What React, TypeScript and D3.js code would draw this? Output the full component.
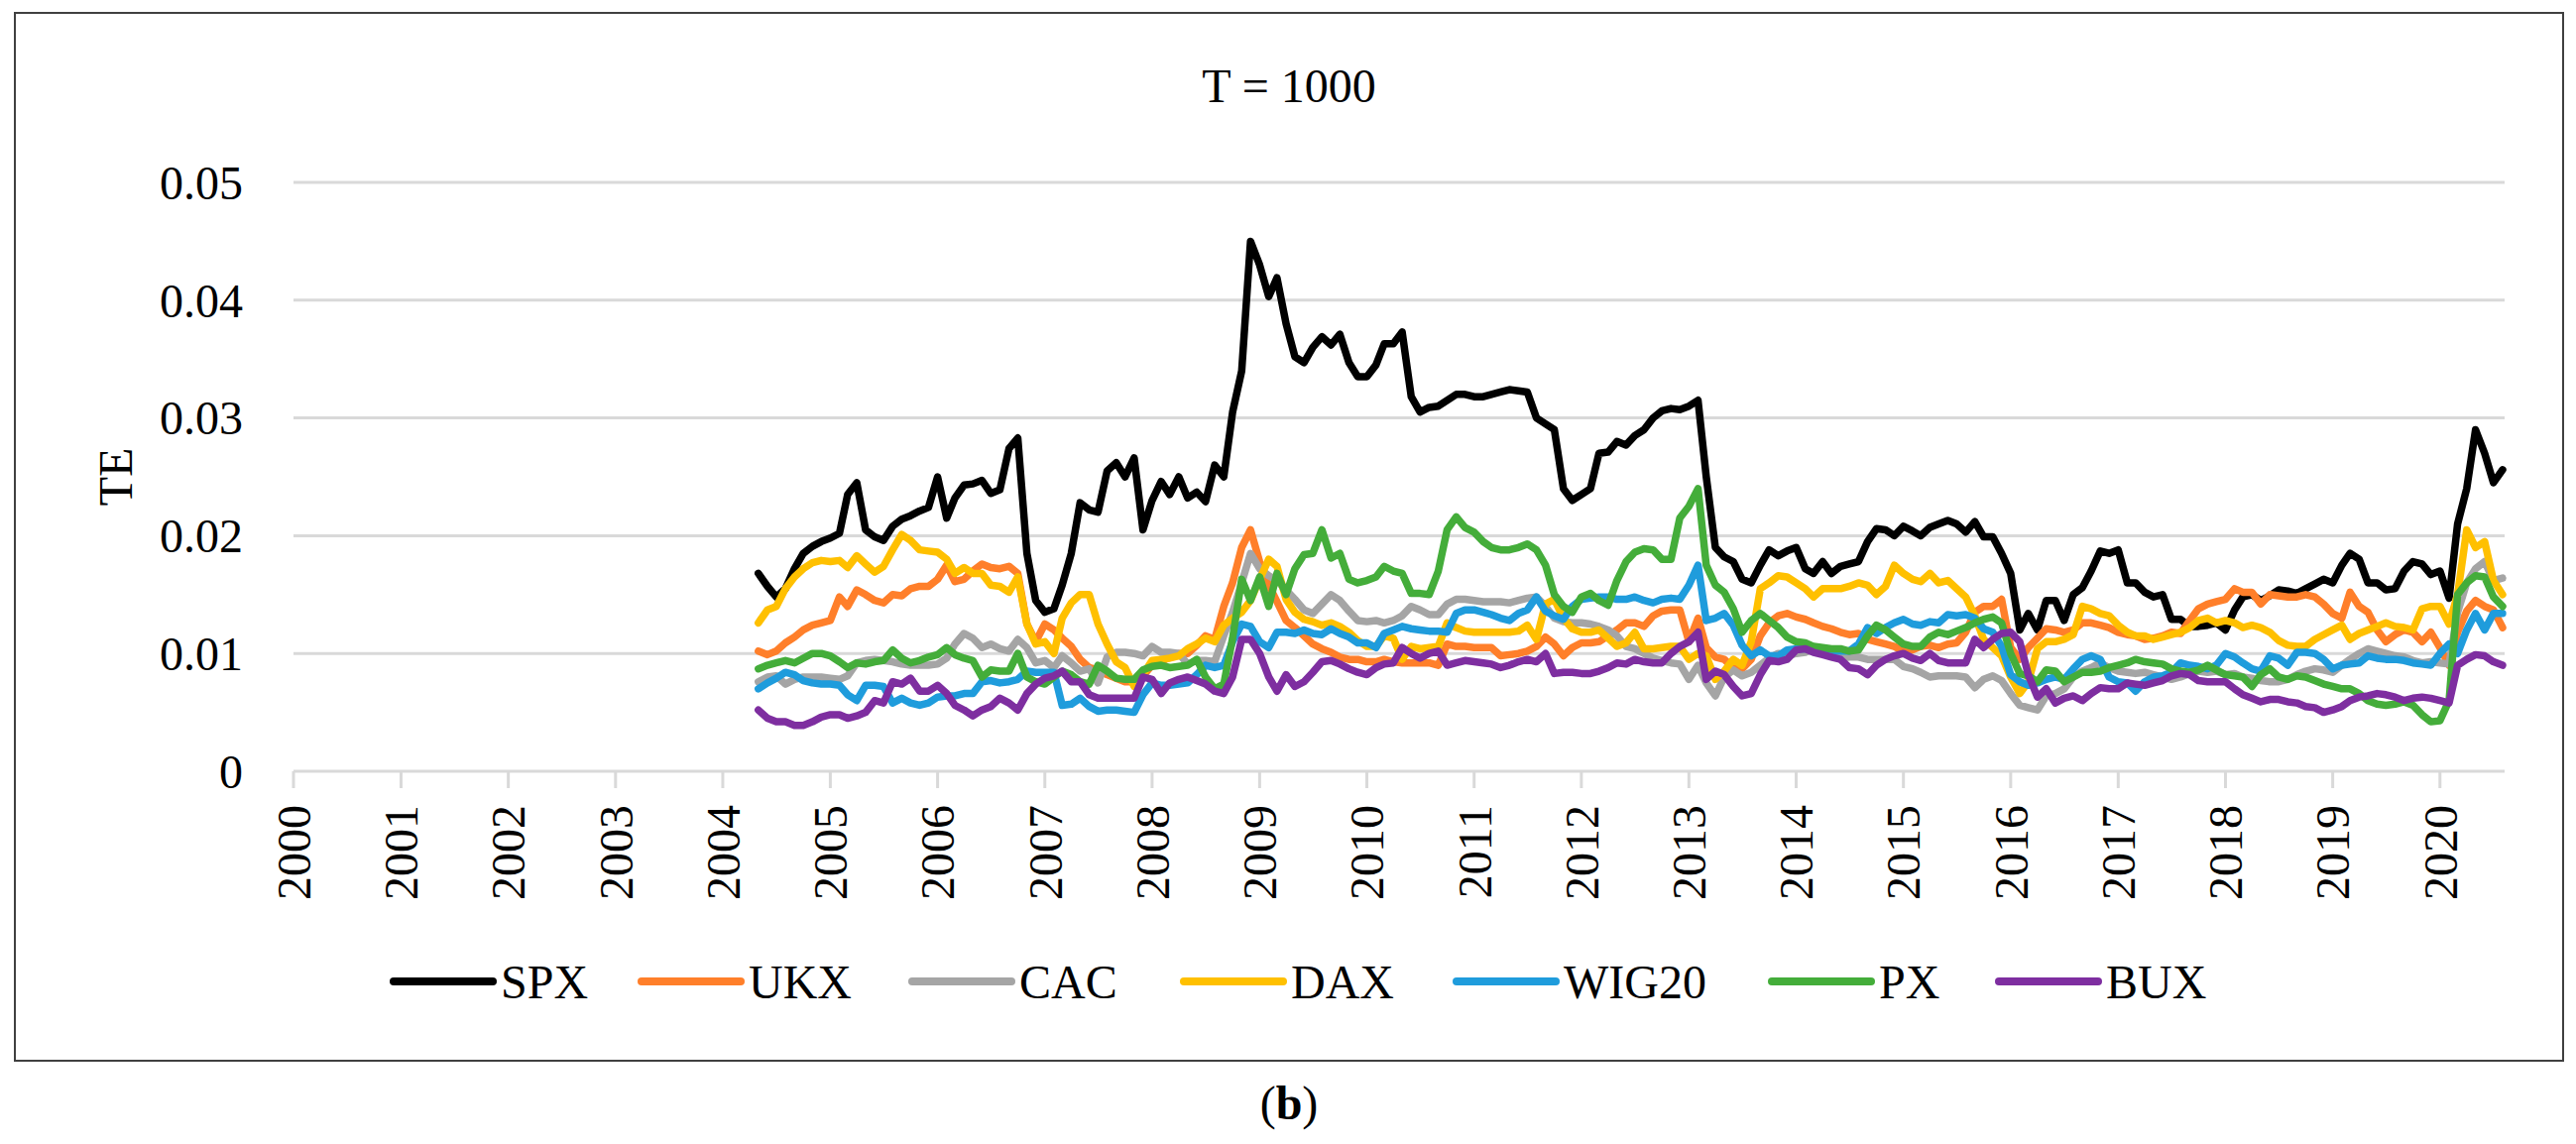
import React from 'react';
import * as d3 from 'd3';

const W = 2598;
const H = 1154;
const FONT = "'Liberation Serif', 'Times New Roman', serif";

// monthly observations, May 2004 .. Aug 2020
const firstMonth = new Date(2004, 4, 1);
const afterLastMonth = new Date(2020, 8, 1);

const yearLabels = [
  '2000', '2001', '2002', '2003', '2004', '2005', '2006', '2007', '2008', '2009', '2010',
  '2011', '2012', '2013', '2014', '2015', '2016', '2017', '2018', '2019', '2020',
];
const yTicks = [0, 0.01, 0.02, 0.03, 0.04, 0.05];
const yTickLabels = ['0', '0.01', '0.02', '0.03', '0.04', '0.05'];

const seriesNames = ['SPX', 'UKX', 'CAC', 'DAX', 'WIG20', 'PX', 'BUX'];
const seriesColors = ['#000000', '#ff7f2a', '#a5a5a5', '#ffc000', '#1f9cdc', '#44ad3a', '#7e2ea0'];

const spx = [
  0.0168, 0.0157, 0.0148, 0.0155, 0.0172, 0.0185, 0.0191, 0.0195, 0.0198, 0.0202, 0.0235, 0.0245,
  0.0205, 0.0199, 0.0196, 0.0208, 0.0214, 0.0217, 0.0221, 0.0224, 0.0250, 0.0215, 0.0232, 0.0243,
  0.0244, 0.0247, 0.0236, 0.0239, 0.0274, 0.0283, 0.0185, 0.0145, 0.0135, 0.0138, 0.0158, 0.0185,
  0.0228, 0.0222, 0.0220, 0.0255, 0.0262, 0.0250, 0.0266, 0.0205, 0.0230, 0.0246, 0.0235, 0.0250,
  0.0232, 0.0237, 0.0229, 0.0260, 0.0250, 0.0305, 0.0340, 0.0450, 0.0430, 0.0403, 0.0419, 0.0380,
  0.0352, 0.0347, 0.0360, 0.0369, 0.0362, 0.0371, 0.0347, 0.0335, 0.0335, 0.0345, 0.0363, 0.0363,
  0.0373, 0.0318, 0.0305, 0.0309, 0.0310, 0.0315, 0.0320, 0.0320, 0.0318, 0.0318, 0.0320, 0.0322,
  0.0324, 0.0323, 0.0322, 0.0300, 0.0295, 0.0290, 0.0240, 0.0230, 0.0235, 0.0240, 0.0270, 0.0271,
  0.0280, 0.0277, 0.0285, 0.0290, 0.0300, 0.0306, 0.0308, 0.0307, 0.0310, 0.0315, 0.0250, 0.0190,
  0.0182, 0.0178, 0.0163, 0.0160, 0.0175, 0.0188, 0.0183, 0.0187, 0.0190, 0.0172, 0.0168, 0.0178,
  0.0168, 0.0174, 0.0176, 0.0178, 0.0195, 0.0206, 0.0205, 0.0200, 0.0208, 0.0204, 0.0200, 0.0207,
  0.0210, 0.0213, 0.0210, 0.0203, 0.0212, 0.0199, 0.0199, 0.0185, 0.0168, 0.0120, 0.0134, 0.0120,
  0.0145, 0.0145, 0.0128, 0.0150, 0.0156, 0.0170, 0.0187, 0.0185, 0.0188, 0.0160, 0.0160, 0.0152,
  0.0148, 0.0150, 0.0129, 0.0129, 0.0123, 0.0123, 0.0124, 0.0126, 0.0120, 0.0137, 0.0148, 0.0150,
  0.0145, 0.0149, 0.0154, 0.0153, 0.0151, 0.0155, 0.0159, 0.0163, 0.0160, 0.0175, 0.0185, 0.0180,
  0.0160, 0.0160, 0.0154, 0.0155, 0.0170, 0.0178, 0.0176, 0.0167, 0.0170, 0.0147, 0.0210, 0.0240,
  0.0290, 0.0270, 0.0245, 0.0256,
];

const ukx = [
  0.0102, 0.0099, 0.0102, 0.0109, 0.0114, 0.0120, 0.0124, 0.0126, 0.0128, 0.0148, 0.0140, 0.0154,
  0.0150, 0.0145, 0.0143, 0.0150, 0.0149, 0.0155, 0.0157, 0.0157, 0.0163, 0.0175, 0.0161, 0.0163,
  0.0170, 0.0176, 0.0173, 0.0172, 0.0174, 0.0168, 0.0125, 0.0110, 0.0125, 0.0120, 0.0113, 0.0106,
  0.0095, 0.0088, 0.0086, 0.0082, 0.0079, 0.0076, 0.0076, 0.0081, 0.0090, 0.0093, 0.0097, 0.0100,
  0.0100, 0.0107, 0.0115, 0.0112, 0.0140, 0.0160, 0.0190, 0.0205, 0.0178, 0.0158, 0.0144, 0.0128,
  0.0122, 0.0115, 0.0108, 0.0104, 0.0101, 0.0097, 0.0095, 0.0095, 0.0093, 0.0093, 0.0095, 0.0093,
  0.0092, 0.0092, 0.0092, 0.0092, 0.0090, 0.0108, 0.0106, 0.0106, 0.0105, 0.0105, 0.0105, 0.0098,
  0.0099, 0.0100, 0.0102, 0.0106, 0.0114, 0.0108, 0.0098, 0.0105, 0.0109, 0.0109, 0.0110, 0.0115,
  0.0120, 0.0126, 0.0126, 0.0123, 0.0132, 0.0136, 0.0137, 0.0137, 0.0110, 0.0130, 0.0105, 0.0097,
  0.0095, 0.0088, 0.0087, 0.0095, 0.0115, 0.0126, 0.0132, 0.0134, 0.0131, 0.0129, 0.0126, 0.0123,
  0.0121, 0.0118, 0.0116, 0.0117, 0.0112, 0.0110, 0.0108, 0.0106, 0.0102, 0.0103, 0.0106, 0.0107,
  0.0105, 0.0108, 0.0109, 0.0118, 0.0135, 0.0140, 0.0140, 0.0146, 0.0105, 0.0095, 0.0105, 0.0113,
  0.0121, 0.0120, 0.0118, 0.0120, 0.0126, 0.0126, 0.0124, 0.0122, 0.0118, 0.0116, 0.0115, 0.0112,
  0.0113, 0.0115, 0.0118, 0.0117, 0.0128, 0.0138, 0.0142, 0.0144, 0.0146, 0.0155, 0.0152, 0.0152,
  0.0142, 0.0150, 0.0149, 0.0148, 0.0148, 0.0150, 0.0148, 0.0142, 0.0134, 0.0130, 0.0152, 0.0140,
  0.0135, 0.0120, 0.0110, 0.0116, 0.0120, 0.0118, 0.0110, 0.0118, 0.0105, 0.0090, 0.0118, 0.0136,
  0.0145, 0.0140, 0.0137, 0.0122,
];

const cac = [
  0.0076, 0.0080, 0.0081, 0.0074, 0.0078, 0.0080, 0.0080, 0.0080, 0.0079, 0.0078, 0.0081, 0.0092,
  0.0094, 0.0095, 0.0094, 0.0093, 0.0091, 0.0090, 0.0090, 0.0090, 0.0091, 0.0096, 0.0108, 0.0117,
  0.0113, 0.0105, 0.0108, 0.0104, 0.0102, 0.0112, 0.0105, 0.0092, 0.0094, 0.0088, 0.0098, 0.0092,
  0.0085, 0.0087, 0.0075, 0.0097, 0.0101, 0.0101, 0.0100, 0.0098, 0.0106, 0.0101, 0.0101, 0.0100,
  0.0091, 0.0094, 0.0094, 0.0093, 0.0115, 0.0135, 0.0160, 0.0185, 0.0172, 0.0166, 0.0162, 0.0154,
  0.0146, 0.0137, 0.0134, 0.0142, 0.0150, 0.0145, 0.0136, 0.0128, 0.0127, 0.0128, 0.0126, 0.0128,
  0.0132, 0.0140, 0.0137, 0.0133, 0.0133, 0.0142, 0.0146, 0.0146, 0.0145, 0.0144, 0.0144, 0.0144,
  0.0143, 0.0145, 0.0147, 0.0148, 0.0140, 0.0130, 0.0127, 0.0126, 0.0126, 0.0125, 0.0123, 0.0120,
  0.0115, 0.0106, 0.0104, 0.0100, 0.0096, 0.0094, 0.0092, 0.0091, 0.0078, 0.0090, 0.0075, 0.0064,
  0.0080, 0.0086, 0.0081, 0.0084, 0.0090, 0.0096, 0.0100, 0.0098, 0.0100, 0.0101, 0.0104, 0.0103,
  0.0100, 0.0096, 0.0097, 0.0097, 0.0095, 0.0095, 0.0095, 0.0095, 0.0089, 0.0087, 0.0084, 0.0080,
  0.0081, 0.0081, 0.0081, 0.0080, 0.0071, 0.0078, 0.0081, 0.0077, 0.0066, 0.0056, 0.0054, 0.0052,
  0.0064, 0.0066, 0.0070, 0.0080, 0.0085, 0.0088, 0.0092, 0.0088, 0.0085, 0.0084, 0.0083, 0.0084,
  0.0082, 0.0080, 0.0078, 0.0080, 0.0083, 0.0085, 0.0084, 0.0085, 0.0082, 0.0083, 0.0080, 0.0079,
  0.0077, 0.0076, 0.0076, 0.0078, 0.0082, 0.0085, 0.0087, 0.0086, 0.0084, 0.0090, 0.0095, 0.0100,
  0.0104, 0.0102, 0.0100, 0.0098, 0.0097, 0.0094, 0.0092, 0.0093, 0.0092, 0.0091, 0.0135, 0.0160,
  0.0172, 0.0178, 0.0162, 0.0164,
];

const dax = [
  0.0126, 0.0137, 0.0140, 0.0155, 0.0165, 0.0172, 0.0177, 0.0179, 0.0178, 0.0179, 0.0173, 0.0183,
  0.0176, 0.0169, 0.0174, 0.0188, 0.0201, 0.0196, 0.0188, 0.0187, 0.0186, 0.0180, 0.0168, 0.0173,
  0.0168, 0.0168, 0.0158, 0.0157, 0.0152, 0.0165, 0.0125, 0.0108, 0.0110, 0.0100, 0.0130, 0.0143,
  0.0150, 0.0150, 0.0125, 0.0108, 0.0093, 0.0088, 0.0072, 0.0082, 0.0094, 0.0095, 0.0096, 0.0098,
  0.0104, 0.0108, 0.0113, 0.0110, 0.0124, 0.0130, 0.0135, 0.0145, 0.0163, 0.0180, 0.0174, 0.0146,
  0.0135, 0.0129, 0.0127, 0.0124, 0.0126, 0.0123, 0.0118, 0.0111, 0.0106, 0.0106, 0.0115, 0.0113,
  0.0095, 0.0106, 0.0104, 0.0105, 0.0106, 0.0126, 0.0122, 0.0119, 0.0118, 0.0118, 0.0118, 0.0118,
  0.0118, 0.0119, 0.0124, 0.0112, 0.0142, 0.0146, 0.0130, 0.0121, 0.0118, 0.0118, 0.0120, 0.0113,
  0.0106, 0.0109, 0.0118, 0.0104, 0.0104, 0.0105, 0.0106, 0.0106, 0.0095, 0.0100, 0.0098, 0.0078,
  0.0085, 0.0095, 0.0090, 0.0110, 0.0155, 0.0160, 0.0166, 0.0165, 0.0160, 0.0155, 0.0148, 0.0155,
  0.0155, 0.0155, 0.0157, 0.0160, 0.0158, 0.0150, 0.0157, 0.0175, 0.0168, 0.0163, 0.0161, 0.0168,
  0.0160, 0.0162, 0.0155, 0.0148, 0.0132, 0.0112, 0.0105, 0.0098, 0.0080, 0.0066, 0.0076, 0.0104,
  0.0110, 0.0110, 0.0112, 0.0116, 0.0140, 0.0138, 0.0134, 0.0132, 0.0124, 0.0118, 0.0115, 0.0115,
  0.0112, 0.0114, 0.0116, 0.0118, 0.0122, 0.0128, 0.0130, 0.0126, 0.0128, 0.0126, 0.0122, 0.0124,
  0.0122, 0.0118, 0.0111, 0.0107, 0.0106, 0.0106, 0.0112, 0.0116, 0.0120, 0.0124, 0.0112, 0.0117,
  0.0120, 0.0123, 0.0126, 0.0123, 0.0122, 0.0120, 0.0138, 0.0140, 0.0140, 0.0125, 0.0150, 0.0205,
  0.0190, 0.0195, 0.0162, 0.0150,
];

const wig20 = [
  0.0070, 0.0075, 0.0079, 0.0084, 0.0082, 0.0077, 0.0075, 0.0074, 0.0074, 0.0073, 0.0065, 0.0060,
  0.0073, 0.0073, 0.0072, 0.0058, 0.0062, 0.0058, 0.0056, 0.0058, 0.0063, 0.0064, 0.0064, 0.0066,
  0.0066, 0.0076, 0.0077, 0.0075, 0.0076, 0.0078, 0.0085, 0.0084, 0.0084, 0.0084, 0.0056, 0.0057,
  0.0062, 0.0055, 0.0051, 0.0052, 0.0052, 0.0051, 0.0050, 0.0065, 0.0075, 0.0073, 0.0073, 0.0074,
  0.0075, 0.0082, 0.0090, 0.0088, 0.0090, 0.0110, 0.0125, 0.0123, 0.0110, 0.0105, 0.0118, 0.0118,
  0.0117, 0.0120, 0.0117, 0.0116, 0.0121, 0.0117, 0.0114, 0.0109, 0.0109, 0.0105, 0.0117, 0.0120,
  0.0123, 0.0121, 0.0120, 0.0119, 0.0119, 0.0118, 0.0134, 0.0137, 0.0137, 0.0135, 0.0133, 0.0130,
  0.0128, 0.0134, 0.0137, 0.0148, 0.0136, 0.0132, 0.0129, 0.0140, 0.0146, 0.0147, 0.0148, 0.0148,
  0.0146, 0.0146, 0.0148, 0.0145, 0.0143, 0.0146, 0.0147, 0.0146, 0.0158, 0.0175, 0.0128, 0.0130,
  0.0134, 0.0124, 0.0107, 0.0098, 0.0103, 0.0098, 0.0098, 0.0103, 0.0104, 0.0104, 0.0104, 0.0101,
  0.0102, 0.0102, 0.0102, 0.0108, 0.0122, 0.0117, 0.0122, 0.0126, 0.0129, 0.0125, 0.0124, 0.0127,
  0.0126, 0.0133, 0.0132, 0.0133, 0.0130, 0.0121, 0.0118, 0.0106, 0.0082, 0.0076, 0.0073, 0.0075,
  0.0078, 0.0080, 0.0078, 0.0087, 0.0095, 0.0098, 0.0095, 0.0080, 0.0076, 0.0075, 0.0068, 0.0076,
  0.0080, 0.0081, 0.0084, 0.0092, 0.0090, 0.0089, 0.0087, 0.0090, 0.0100, 0.0097, 0.0092, 0.0087,
  0.0085, 0.0098, 0.0096, 0.0090, 0.0101, 0.0101, 0.0100, 0.0095, 0.0087, 0.0090, 0.0091, 0.0092,
  0.0098, 0.0096, 0.0095, 0.0095, 0.0094, 0.0092, 0.0091, 0.0090, 0.0100, 0.0108, 0.0100, 0.0120,
  0.0134, 0.0120, 0.0134, 0.0134,
];

const px = [
  0.0087, 0.0090, 0.0092, 0.0094, 0.0092, 0.0096, 0.0100, 0.0100, 0.0098, 0.0093, 0.0088, 0.0092,
  0.0091, 0.0093, 0.0094, 0.0103, 0.0096, 0.0092, 0.0094, 0.0097, 0.0099, 0.0105, 0.0099, 0.0096,
  0.0094, 0.0080, 0.0086, 0.0085, 0.0085, 0.0100, 0.0080, 0.0076, 0.0074, 0.0080, 0.0085, 0.0082,
  0.0076, 0.0074, 0.0090, 0.0085, 0.0079, 0.0078, 0.0078, 0.0086, 0.0089, 0.0090, 0.0088, 0.0089,
  0.0090, 0.0095, 0.0080, 0.0070, 0.0074, 0.0113, 0.0163, 0.0145, 0.0165, 0.0140, 0.0168, 0.0150,
  0.0172, 0.0184, 0.0185, 0.0205, 0.0181, 0.0185, 0.0163, 0.0160, 0.0162, 0.0165, 0.0174, 0.0170,
  0.0168, 0.0151, 0.0151, 0.0150, 0.0170, 0.0205, 0.0216, 0.0207, 0.0203, 0.0195, 0.0190, 0.0188,
  0.0188, 0.0190, 0.0193, 0.0188, 0.0175, 0.0150, 0.0140, 0.0135, 0.0148, 0.0151, 0.0145, 0.0141,
  0.0162, 0.0178, 0.0186, 0.0189, 0.0188, 0.0180, 0.0180, 0.0215, 0.0225, 0.0240, 0.0175, 0.0158,
  0.0152, 0.0138, 0.0118, 0.0128, 0.0134, 0.0128, 0.0122, 0.0114, 0.0110, 0.0109, 0.0106, 0.0105,
  0.0104, 0.0104, 0.0102, 0.0103, 0.0115, 0.0124, 0.0120, 0.0114, 0.0108, 0.0106, 0.0106, 0.0114,
  0.0118, 0.0116, 0.0119, 0.0122, 0.0126, 0.0129, 0.0131, 0.0126, 0.0100, 0.0083, 0.0081, 0.0076,
  0.0086, 0.0085, 0.0076, 0.0080, 0.0084, 0.0084, 0.0085, 0.0088, 0.0090, 0.0092, 0.0095, 0.0093,
  0.0092, 0.0091, 0.0087, 0.0085, 0.0084, 0.0086, 0.0090, 0.0086, 0.0082, 0.0081, 0.0080, 0.0072,
  0.0082, 0.0087, 0.0080, 0.0078, 0.0081, 0.0080, 0.0077, 0.0074, 0.0072, 0.0070, 0.0070, 0.0066,
  0.0060, 0.0057, 0.0056, 0.0057, 0.0059, 0.0056, 0.0048, 0.0042, 0.0043, 0.0060, 0.0150, 0.0160,
  0.0166, 0.0165, 0.0148, 0.0140,
];

const bux = [
  0.0052, 0.0045, 0.0042, 0.0042, 0.0039, 0.0039, 0.0042, 0.0046, 0.0048, 0.0048, 0.0045, 0.0047,
  0.0050, 0.0060, 0.0058, 0.0076, 0.0074, 0.0079, 0.0068, 0.0068, 0.0073, 0.0066, 0.0056, 0.0052,
  0.0047, 0.0052, 0.0055, 0.0062, 0.0058, 0.0052, 0.0066, 0.0074, 0.0079, 0.0081, 0.0085, 0.0076,
  0.0076, 0.0065, 0.0062, 0.0062, 0.0062, 0.0062, 0.0062, 0.0080, 0.0078, 0.0066, 0.0075, 0.0078,
  0.0080, 0.0077, 0.0074, 0.0068, 0.0066, 0.0080, 0.0112, 0.0112, 0.0100, 0.0080, 0.0068, 0.0082,
  0.0072, 0.0076, 0.0084, 0.0093, 0.0094, 0.0091, 0.0087, 0.0084, 0.0082, 0.0088, 0.0091, 0.0092,
  0.0105, 0.0100, 0.0096, 0.0100, 0.0102, 0.0090, 0.0092, 0.0094, 0.0093, 0.0092, 0.0091, 0.0088,
  0.0090, 0.0093, 0.0095, 0.0093, 0.0100, 0.0083, 0.0084, 0.0084, 0.0083, 0.0083, 0.0085, 0.0088,
  0.0092, 0.0091, 0.0095, 0.0093, 0.0092, 0.0092, 0.0100, 0.0106, 0.0110, 0.0118, 0.0078, 0.0085,
  0.0082, 0.0072, 0.0064, 0.0066, 0.0082, 0.0094, 0.0093, 0.0095, 0.0103, 0.0104, 0.0101, 0.0099,
  0.0097, 0.0095, 0.0088, 0.0087, 0.0082, 0.0090, 0.0095, 0.0098, 0.0100, 0.0096, 0.0094, 0.0100,
  0.0094, 0.0092, 0.0092, 0.0092, 0.0112, 0.0105, 0.0112, 0.0117, 0.0118, 0.0110, 0.0082, 0.0063,
  0.0070, 0.0058, 0.0062, 0.0064, 0.0060, 0.0066, 0.0071, 0.0070, 0.0070, 0.0075, 0.0074, 0.0073,
  0.0075, 0.0077, 0.0081, 0.0083, 0.0082, 0.0077, 0.0076, 0.0076, 0.0076, 0.0070, 0.0065, 0.0062,
  0.0059, 0.0061, 0.0061, 0.0059, 0.0058, 0.0055, 0.0054, 0.0050, 0.0052, 0.0055, 0.0060, 0.0063,
  0.0064, 0.0066, 0.0065, 0.0063, 0.0060, 0.0062, 0.0063, 0.0062, 0.0060, 0.0058, 0.0090, 0.0095,
  0.0099, 0.0098, 0.0093, 0.0090,
];

const seriesValues = [spx, ukx, cac, dax, wig20, px, bux];

// legend item left edges, as laid out in the original figure
const legendX = [393, 643, 916, 1190, 1465, 1783, 2012];

export default function App() {
  const months = d3.timeMonth.range(firstMonth, afterLastMonth);

  const x = d3.scaleTime()
    .domain([new Date(2000, 0, 1), new Date(2020, 7, 8)])
    .range([296, 2526]);
  const y = d3.scaleLinear().domain([0, 0.05]).range([778, 184]);

  const line = d3.line<number>()
    .x((_, i) => x(months[i]))
    .y(d => y(d));

  const plotLeft = x.range()[0];
  const plotRight = x.range()[1];

  return (
    <svg
      width={W}
      height={H}
      style={{ position: 'absolute', left: 0, top: 0, background: '#fff' }}
      fontFamily={FONT}
    >
      <rect x={0} y={0} width={W} height={H} fill="#fff" />
      <rect x={15} y={13} width={2570} height={1057} fill="none" stroke="#404040" strokeWidth={2} />

      <text x={1300} y={103} fontSize={48} textAnchor="middle" fill="#000">T = 1000</text>

      {/* gridlines + y labels */}
      {yTicks.map((t, i) => (
        <g key={t}>
          <line x1={plotLeft} x2={plotRight} y1={y(t)} y2={y(t)} stroke="#d9d9d9" strokeWidth={3} />
          <text x={245} y={y(t)} dy="0.35em" fontSize={48} textAnchor="end" fill="#000">
            {yTickLabels[i]}
          </text>
        </g>
      ))}

      <text
        transform={`translate(116, ${(y(0) + y(0.05)) / 2}) rotate(-90)`}
        dy="0.35em"
        fontSize={48}
        textAnchor="middle"
        fill="#000"
      >
        TE
      </text>

      {/* year ticks + rotated labels */}
      {yearLabels.map(lbl => {
        const xp = x(new Date(+lbl, 0, 1));
        return (
          <g key={lbl}>
            <line x1={xp} x2={xp} y1={y(0)} y2={y(0) + 17} stroke="#d9d9d9" strokeWidth={3} />
            <text
              transform={`translate(${xp}, 812) rotate(-90)`}
              dy="0.35em"
              fontSize={48}
              textAnchor="end"
              fill="#000"
            >
              {lbl}
            </text>
          </g>
        );
      })}

      {/* series */}
      {seriesValues.map((vals, s) => (
        <path
          key={seriesNames[s]}
          d={line(vals) || ''}
          fill="none"
          stroke={seriesColors[s]}
          strokeWidth={7.5}
          strokeLinejoin="round"
          strokeLinecap="round"
        />
      ))}

      {/* legend */}
      {seriesNames.map((name, s) => (
        <g key={name} transform={`translate(${legendX[s]}, 990)`}>
          <line x1={4} x2={104} y1={0} y2={0} stroke={seriesColors[s]} strokeWidth={8} strokeLinecap="round" />
          <text x={112} y={0} dy="0.35em" fontSize={48} fill="#000">{name}</text>
        </g>
      ))}

      <text x={1300} y={1129} fontSize={48} textAnchor="middle" fill="#000">
        (<tspan fontWeight="bold">b</tspan>)
      </text>
    </svg>
  );
}
